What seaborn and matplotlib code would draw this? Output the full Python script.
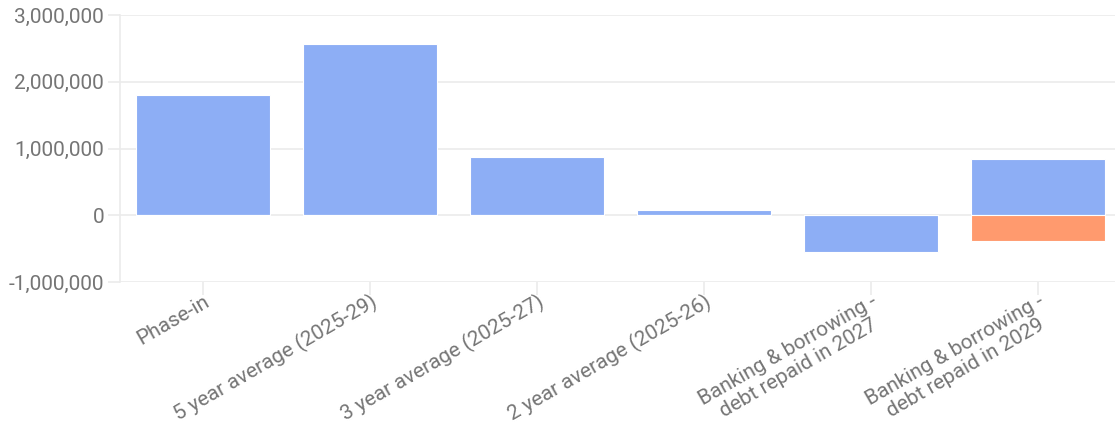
import matplotlib
matplotlib.use("Agg")
import matplotlib.pyplot as plt
import seaborn as sns
import pandas as pd
from matplotlib.ticker import FuncFormatter

categories = ["Phase-in", "5 year average (2025-29)", "3 year average (2025-27)",
              "2 year average (2025-26)", "Banking & borrowing -\ndebt repaid in 2027",
              "Banking & borrowing -\ndebt repaid in 2029"]
series_main = [1800000, 2570000, 870000, 75000, -545000, 840000]
series_debt = [0, 0, 0, 0, 0, -385000]
yticks = [-1000000, 0, 1000000, 2000000, 3000000]

blue = "#8DAEF5"
orange = "#FF9A6E"
text_color = "#757575"
grid_color = "#ebebeb"

sns.set_theme(style="white")
plt.rcParams['font.family'] = ['Roboto', 'DejaVu Sans']

df = pd.DataFrame({
    "category": categories * 2,
    "value": series_main + series_debt,
    "series": ["Main"] * len(categories) + ["Debt"] * len(categories),
})

fig = plt.figure(figsize=(11.15, 4.3), dpi=100)
ax = fig.add_axes([119.5/1115, 1 - 282/430, 1002/1115, (282 - 15)/430])

sns.barplot(data=df, x="category", y="value", hue="series", dodge=False,
            palette={"Main": blue, "Debt": orange}, width=0.8, saturation=1,
            edgecolor="white", linewidth=0.8, legend=False, ax=ax, zorder=3)

ax.set_ylim(-1000000, 3000000)
ax.set_xlim(-0.5, len(categories) - 0.5)
ax.set_yticks(yticks)
ax.yaxis.set_major_formatter(FuncFormatter(lambda v, p: f"{int(v):,}"))
ax.set_xlabel("")
ax.set_ylabel("")

for s in ["top", "right", "bottom"]:
    ax.spines[s].set_visible(False)
ax.spines["left"].set_color(grid_color)
ax.spines["left"].set_linewidth(1.2)

ax.yaxis.grid(True, color=grid_color, linewidth=1.2, zorder=0)
ax.set_axisbelow(True)

ax.tick_params(axis="y", colors=grid_color, labelcolor=text_color, labelsize=15,
               length=9, width=1.2, left=True, pad=2)
ax.tick_params(axis="x", colors=grid_color, labelcolor=text_color, labelsize=15,
               length=9, width=1.2, bottom=True, pad=-2)

ax.set_xticks(range(len(categories)))
ax.set_xticklabels(categories, rotation=30, ha="right", rotation_mode="anchor",
                   multialignment="center", linespacing=1.12)

fig.savefig("out.png", dpi=100)
